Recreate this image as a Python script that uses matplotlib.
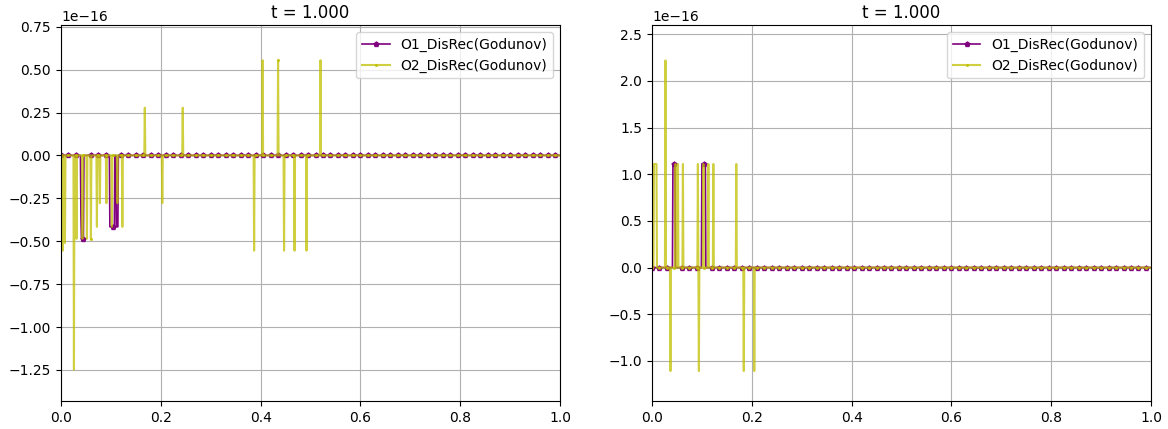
import numpy as np
import matplotlib
matplotlib.use("Agg")
import matplotlib.pyplot as plt

# grid and plotting options
N = 1000
x = np.linspace(0.0, 1.0, N + 1)
mark_step = 15

# nonzero cells (index, value in units of 1e-16) for the two schemes
left_o1_idx = [40, 41, 42, 43, 44, 45,
               98, 99, 100, 101, 102, 103, 104, 105, 106, 107,
               111, 112, 113, 114]
left_o1_val = [-0.347, -0.486, -0.486, -0.486, -0.486, -0.486,
               -0.416, -0.416, -0.416, -0.416, -0.416, -0.416, -0.416, -0.416, -0.416, -0.416,
               -0.416, -0.416, -0.416, -0.416]
left_o2_idx = [4, 8, 26, 31, 43, 52, 60, 72, 78, 91, 102, 113, 123,
               168, 203, 244, 387, 404, 435, 447, 468, 492, 520]
left_o2_val = [-0.555, -0.51, -1.249, -0.486, -0.486, -0.486, -0.486, -0.416, -0.278, -0.278,
               -0.416, -0.278, -0.416, 0.278, -0.278, 0.278, -0.555, 0.555, 0.555,
               -0.555, -0.555, -0.555, 0.555]

right_o1_idx = [42, 43, 44, 45, 46, 100, 101, 102, 103, 104, 105, 106, 107]
right_o1_val = [1.11, 1.11, 1.11, 1.11, 1.11, 1.11, 1.11, 1.11, 1.11, 1.11, 1.11, 1.11, 1.11]
right_o2_idx = [4, 5, 6, 7, 8, 9, 27, 37, 47, 52, 62, 92, 94, 103, 113, 123, 169, 184, 205]
right_o2_val = [1.11, 1.11, 1.11, 1.11, 1.11, 1.11, 2.22, -1.11, 1.11, 1.11, 1.11, 1.11,
                -1.11, 1.11, 1.11, 1.11, 1.11, -1.11, -1.11]

ylims = [(-1.431e-16, 0.76e-16), (-1.431e-16, 2.60e-16)]


def build(idx, val):
    u = np.zeros(N + 1)
    u[np.array(idx)] = np.array(val) * 1e-16
    return u


panels = [(build(left_o1_idx, left_o1_val), build(left_o2_idx, left_o2_val)),
          (build(right_o1_idx, right_o1_val), build(right_o2_idx, right_o2_val))]

fig = plt.figure(figsize=(11.68, 4.29), dpi=100)
boxes = [[0.0522, 0.0653, 0.4273, 0.8764], [0.5582, 0.0653, 0.4272, 0.8764]]

for k, (u1, u2) in enumerate(panels):
    ax = fig.add_axes(boxes[k])
    ax.plot(x, u1, color="purple", lw=1.2, marker="p", ms=3.5,
            markevery=mark_step, label="O1_DisRec(Godunov)")
    ax.plot(x, u2, color="y", alpha=0.75, lw=1.5, marker=".", ms=2.5,
            markevery=mark_step, label="O2_DisRec(Godunov)")
    ax.set_xlim(0.0, 1.0)
    ax.set_ylim(*ylims[k])
    ax.set_title("t = 1.000", pad=5)
    ax.grid(True)
    ax.legend(loc="upper right")

fig.savefig("out.png", dpi=100)
